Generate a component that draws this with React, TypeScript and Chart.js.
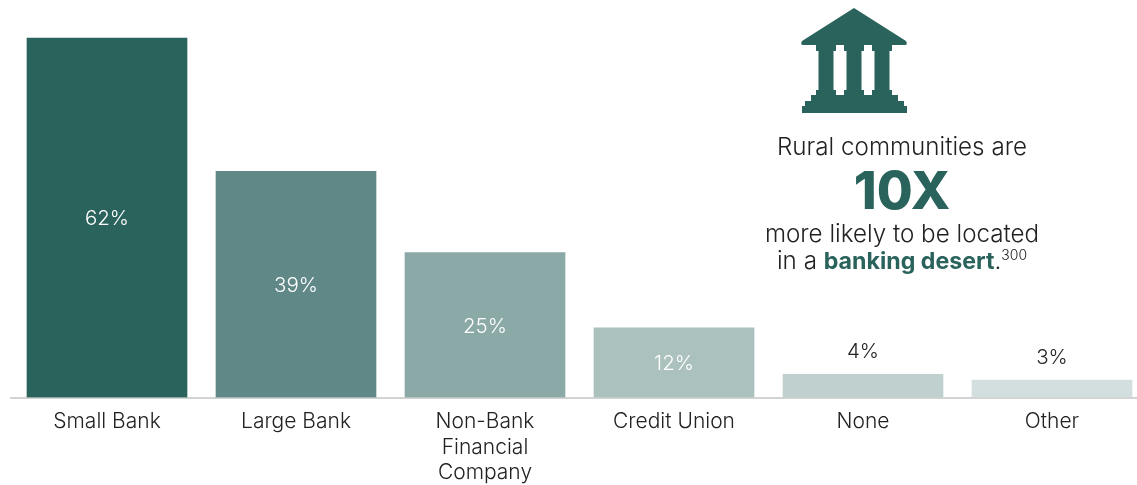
import React, { useEffect, useRef } from "react";
import { Chart, registerables } from "chart.js";

Chart.register(...registerables);

const categories: (string | string[])[] = ["Small Bank", "Large Bank", ["Non-Bank", "Financial", "Company"], "Credit Union", "None", "Other"];
const values = [62, 39, 25, 12, 4, 3];
const valueLabels = ["62%", "39%", "25%", "12%", "4%", "3%"];
const barColors = ["#2a635c", "#5f8886", "#8aa9a7", "#abc1be", "#c0d0cf", "#d2dfde"];
const labelColors = ["#ffffff", "#ffffff", "#ffffff", "#ffffff", "#222222", "#222222"];
const FONT = "Inter, 'Noto Sans', sans-serif";

const overlayPlugin = {
  id: "overlay",
  beforeDatasetsDraw(chart: any) {
    const { ctx } = chart;
    ctx.save();
    ctx.fillStyle = "#d2d4d4";
    ctx.fillRect(10, 397, 1137, 2);
    ctx.restore();
  },
  afterDatasetsDraw(chart: any) {
    const { ctx } = chart;
    const meta = chart.getDatasetMeta(0);
    const y0 = chart.scales.y.getPixelForValue(0);
    ctx.save();
    ctx.font = `300 20.5px ${FONT}`;
    ctx.textAlign = "center";
    ctx.textBaseline = "middle";
    meta.data.forEach((bar: any, i: number) => {
      const outside = values[i] < 10;
      const y = outside ? bar.y - 22.5 : (bar.y + y0) / 2 + 1.5;
      ctx.fillStyle = labelColors[i];
      ctx.fillText(valueLabels[i], bar.x, y);
    });
    ctx.restore();
  },
};

export default function App() {
  const ref = useRef<HTMLCanvasElement>(null);
  useEffect(() => {
    document.body.style.margin = "0";
    const chart = new Chart(ref.current!, {
      type: "bar",
      data: {
        labels: categories as any,
        datasets: [{ data: values, backgroundColor: barColors, barThickness: 160 }],
      },
      options: {
        animation: false,
        responsive: false,
        maintainAspectRatio: false,
        layout: { padding: { right: 0.5 } },
        plugins: { legend: { display: false }, tooltip: { enabled: false } },
        scales: {
          x: {
            position: "bottom",
            afterFit(s: any) { s.height = 87.5; },
            grid: { display: false, drawTicks: false },
            border: { display: false },
            ticks: {
              color: "#222222",
              font: { family: FONT, size: 21, weight: 300, lineHeight: 1.23 } as any,
              padding: 11,
              maxRotation: 0,
              autoSkip: false,
            },
          },
          y: {
            display: false,
            min: 0,
            max: 68.56,
            afterFit(s: any) { s.width = 12.5; },
          },
        },
      } as any,
      plugins: [overlayPlugin as any],
    });
    return () => chart.destroy();
  }, []);

  const line: React.CSSProperties = {
    position: "absolute", left: 700, width: 404, textAlign: "center",
    font: `300 24.2px ${FONT}`, color: "#222222", whiteSpace: "nowrap",
  };
  return (
    <div style={{ position: "relative", width: 1137, height: 485, overflow: "hidden", background: "#fff" }}>
      <canvas ref={ref} width={1147} height={485} style={{ position: "absolute", left: 0, top: 0, display: "block" }} />
      <svg width="1137" height="485" style={{ position: "absolute", left: 0, top: 0 }}>
        <path
          fill="#2a635c"
          d="M854 8 L906 41 Q908 45 905 45 L892 45 V51 H889.5 V90 H892 V95 H898 V101 H904 V106 H907 V113 H802 V106 H805 V101 H811 V95 H816 V90 H818.5 V51 H816 V45 L803 45 Q800 45 802 41 Z M836 45 V51 H833.5 V90 H836 V95 H844 V90 H846.5 V51 H844 V45 Z M864 45 V51 H861.5 V90 H864 V95 H872 V90 H874.5 V51 H872 V45 Z"
          fillRule="evenodd"
        />
      </svg>
      <div style={{ ...line, top: 132 }}>Rural communities are</div>
      <div style={{ ...line, top: 159, font: `800 52px ${FONT}`, color: "#2a635c" }}>10X</div>
      <div style={{ ...line, top: 219 }}>more likely to be located</div>
      <div style={{ ...line, top: 246 }}>
        in a <span style={{ fontWeight: 700, fontSize: 23.2, color: "#2a635c" }}>banking desert</span>.
        <sup style={{ fontSize: 14, verticalAlign: "baseline", position: "relative", top: -9 }}>300</sup>
      </div>
    </div>
  );
}
